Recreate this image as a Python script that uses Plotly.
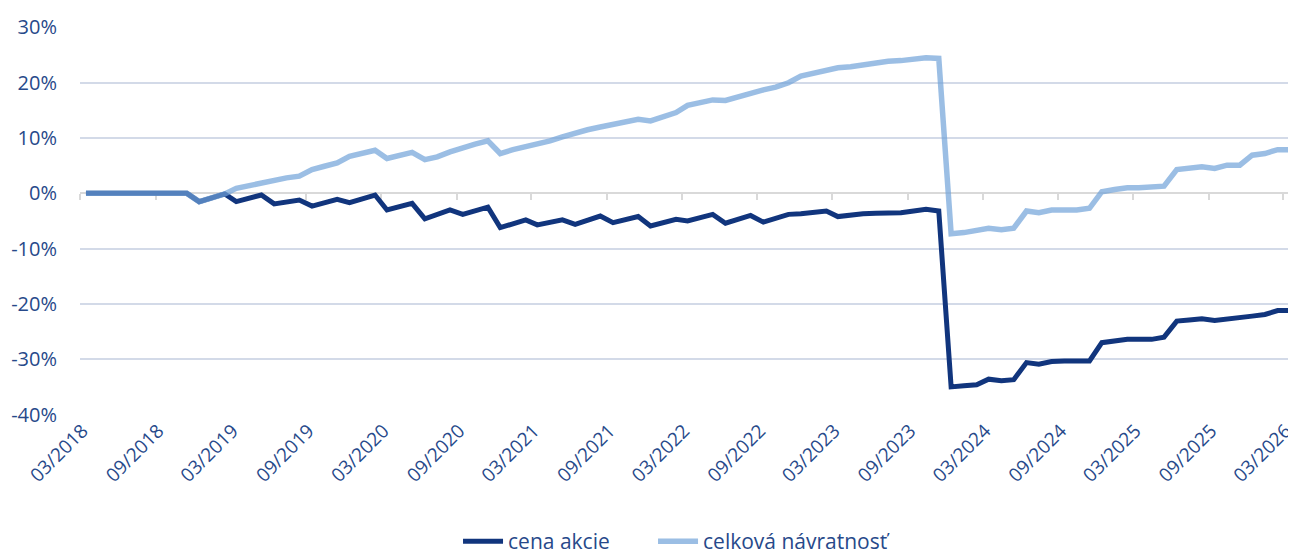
import pandas as pd
import plotly.graph_objects as go

# monthly categories 03/2018 .. 03/2026
months = pd.date_range("2018-03-01", "2026-03-01", freq="MS")
centers = months + pd.Timedelta(days=14, hours=12)

cena_akcie = [
    0, 0, 0, 0, 0, 0, 0, 0, 0, -1.5, -0.8, -0.1,
    -1.5, -0.9, -0.3, -1.9, -1.6, -1.2, -2.3, -1.7, -1.1, -1.7, -1.0, -0.3,
    -3.0, -2.4, -1.8, -4.6, -3.8, -3.0, -3.8, -3.2, -2.5, -6.2, -5.5, -4.8,
    -5.7, -5.2, -4.8, -5.6, -4.8, -4.1, -5.3, -4.8, -4.2, -5.9, -5.3, -4.7,
    -5.0, -4.4, -3.8, -5.4, -4.7, -4.0, -5.2, -4.6, -3.8, -3.7, -3.5, -3.2,
    -4.2, -3.9, -3.7, -3.6, -3.6, -3.5, -3.2, -2.9, -3.2, -35.0, -34.8, -34.6,
    -33.6, -33.9, -33.7, -30.6, -30.9, -30.4, -30.3, -30.3, -30.3, -27.0, -26.6, -26.4,
    -26.4, -26.4, -26.0, -23.1, -22.9, -22.7, -23.0, -22.8, -22.5, -22.2, -21.9, -21.2,
    -21.2,
]
celkova_navratnost = [
    0, 0, 0, 0, 0, 0, 0, 0, 0, -1.5, -0.8, -0.1,
    0.9, 1.4, 1.9, 2.5, 2.8, 3.1, 4.3, 4.9, 5.5, 6.7, 7.2, 7.8,
    6.3, 6.9, 7.4, 6.1, 6.6, 7.5, 8.3, 8.9, 9.5, 7.2, 7.9, 8.4,
    9.0, 9.5, 10.2, 10.9, 11.5, 12.0, 12.5, 12.9, 13.4, 13.1, 13.8, 14.6,
    15.9, 16.3, 16.9, 16.8, 17.5, 18.1, 18.7, 19.2, 20.0, 21.2, 21.8, 22.3,
    22.7, 22.9, 23.2, 23.7, 23.9, 24.0, 24.3, 24.5, 24.4, -7.3, -7.1, -6.8,
    -6.3, -6.6, -6.3, -3.2, -3.5, -3.0, -3.0, -3.0, -2.7, 0.3, 0.7, 1.0,
    1.0, 1.2, 1.3, 4.3, 4.5, 4.8, 4.5, 5.1, 5.1, 6.9, 7.2, 7.9,
    7.9,
]
series_names = ["cena akcie", "celková návratnosť"]
y_ticks = [-40, -30, -20, -10, 0, 10, 20, 30]
y_ticktext = [f"{v}%" for v in y_ticks]

tick_idx = list(range(0, len(months), 6))
label_pos = months + pd.Timedelta(days=6)
x_tickvals = [label_pos[i] for i in tick_idx]
x_ticktext = [months[i].strftime("%m/%Y") for i in tick_idx]
boundary_ticks = [months[i] for i in tick_idx]

TEXT = "#27498a"
FONT = "Open Sans"
x_range = [months[0], months[-1] + pd.offsets.MonthBegin(1)]

fig = go.Figure()
# invisible helper trace so the zero-line axis is drawn
fig.add_trace(go.Scatter(x=[months[0], months[-1]], y=[0, 0], xaxis="x2", mode="lines",
                         line=dict(color="rgba(0,0,0,0)", width=0), showlegend=False,
                         hoverinfo="skip"))
fig.add_trace(go.Scatter(x=centers, y=cena_akcie, name=series_names[0], mode="lines",
                         line=dict(color="#11357d", width=5), legend="legend"))
fig.add_trace(go.Scatter(x=centers, y=celkova_navratnost, name=series_names[1], mode="lines",
                         line=dict(color="rgba(112,162,216,0.7)", width=5.5), legend="legend2"))

ymin, ymax = -40, 30
pad = 0.08
legend_common = dict(orientation="h", xanchor="left", xref="container",
                     y=0.028, yanchor="middle", yref="container",
                     font=dict(family=FONT, size=21, color=TEXT), itemwidth=40,
                     bgcolor="rgba(0,0,0,0)")
fig.update_layout(
    template="none",
    width=1288, height=549,
    margin=dict(l=72, r=0, t=19, b=142),
    paper_bgcolor="white", plot_bgcolor="white",
    font=dict(family=FONT, size=19, color=TEXT),
    showlegend=True,
    legend=dict(x=0.3494, **legend_common),
    legend2=dict(x=0.5008, **legend_common),
    xaxis=dict(type="date", range=x_range, tickvals=x_tickvals, ticktext=x_ticktext,
               tickangle=-45, showgrid=False, zeroline=False, showline=False,
               ticks="", automargin=False, ticklabeloverflow="allow",
               tickfont=dict(family=FONT, size=19, color=TEXT)),
    xaxis2=dict(type="date", range=x_range, overlaying="x", anchor="free",
                position=(0 - (ymin - pad)) / ((ymax + pad) - (ymin - pad)), side="bottom",
                tickvals=boundary_ticks, showticklabels=False, ticks="outside",
                ticklen=6, tickwidth=1.5, tickcolor="#d9d9d9", showline=True,
                linecolor="#d9d9d9", linewidth=2, showgrid=False, zeroline=False,
                layer="below traces", automargin=False),
    yaxis=dict(range=[ymin - pad, ymax + pad], tickvals=y_ticks, ticktext=y_ticktext,
               showgrid=True, gridcolor="#d3dae8", gridwidth=1.5, zeroline=False,
               showline=False, ticks="", ticklabelstandoff=22, automargin=False,
               tickfont=dict(family=FONT, size=20, color=TEXT)),
    hovermode=False,
)
fig.write_html("out.html")
